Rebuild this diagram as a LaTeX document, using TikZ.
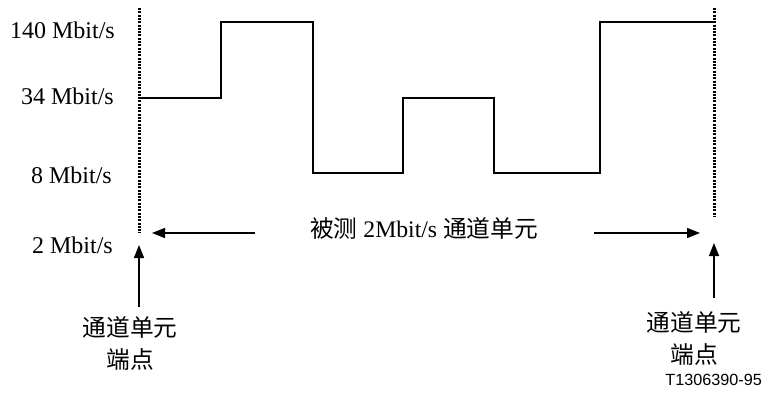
\documentclass[tikz,border=0pt]{standalone}
\usepackage{fontspec}
\setmainfont{Liberation Serif}
\newfontfamily\cjk{Noto Sans CJK SC}
\newfontfamily\arialf{Liberation Sans}
\usetikzlibrary{arrows.meta}
\tikzset{
  wave/.style={line width=2pt, line join=miter},
  marker/.style={line width=3pt, dash pattern=on 2pt off 1.3pt},
  pointer/.style={line width=1.5pt, -{Triangle[length=13pt,width=10pt]}},
  rate/.style={anchor=base east, inner sep=0pt, font=\fontsize{24}{26}\selectfont},
  endlabel/.style={align=center, inner sep=0pt, font=\cjk\fontsize{23.7}{32}\selectfont},
}
\begin{document}
\begin{tikzpicture}[x=1pt,y=-1pt]
\useasboundingbox (0,0) rectangle (763,405);
% rate labels
\node[rate] (r140) at (115,38) {140 Mbit/s};
\node[rate] (r34) at (114,104) {34 Mbit/s};
\node[rate] (r8) at (112,183) {8 Mbit/s};
\node[rate] (r2) at (113,253) {2 Mbit/s};
% markers
\coordinate (ltop) at (139,8);
\coordinate (lbot) at (139,233);
\coordinate (rtop) at (714,8);
\coordinate (rbot) at (714,217);
\draw[marker] (ltop) -- (lbot);
\draw[marker] (rtop) -- (rbot);
% waveform
\coordinate (w0) at (139,98);
\draw[wave] (w0) -- (221,98) -- (221,22) -- (313,22) -- (313,173) -- (403,173)
  -- (403,98) -- (494,98) -- (494,173) -- (600,173) -- (600,22) -- (714,22);
% middle label and arrows
\node[inner sep=0pt, anchor=base, font=\fontsize{23.7}{26}\selectfont] (mid) at (424,237)
  {{\cjk 被测} 2Mbit/s {\cjk 通道单元}};
\coordinate (la0) at (255,233);
\coordinate (la1) at (152,233);
\coordinate (ra0) at (594,233);
\coordinate (ra1) at (700,233);
\draw[pointer] (la0) -- (la1);
\draw[pointer] (ra0) -- (ra1);
% end point labels
\node[endlabel] (lend) at (130,343) {通道单元\\端点};
\node[endlabel] (rend) at (694,338) {通道单元\\端点};
\coordinate (lu1) at (139,245);
\coordinate (ru1) at (714,243);
\draw[pointer] (139,307) -- (lu1);
\draw[pointer] (714,298) -- (ru1);
% figure id
\node[anchor=base east, inner sep=0pt, font=\arialf\fontsize{16.2}{18}\selectfont] (fid) at (762,385) {T1306390-95};
\end{tikzpicture}
\end{document}
